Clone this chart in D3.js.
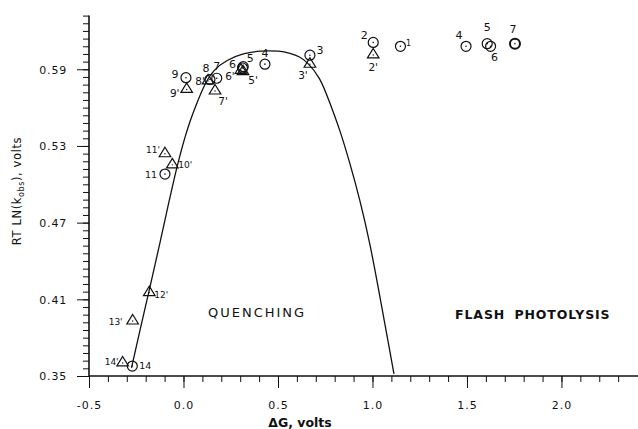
<!DOCTYPE html>
<html><head><meta charset="utf-8">
<script src="https://cdn.jsdelivr.net/npm/d3@7"></script>
<style>body{margin:0;background:#fff}</style></head>
<body>
<svg id="c" width="638" height="429"></svg>
<script>
// ---- data ----
const curveDG = [-0.2751,-0.2302,-0.1772,-0.1243,-0.0714,-0.0450,-0.0185,0.0079,0.0344,0.0698,0.1138,0.1577,0.2286,0.3164,0.4048,0.5106,0.5635,0.6164,0.6519,0.7222,0.7751,0.8280,0.8810,0.9339,0.9868,1.0397,1.0926,1.1138];
const curveV  = [0.3563,0.3860,0.4196,0.4541,0.4901,0.5073,0.5229,0.5370,0.5495,0.5634,0.5790,0.5894,0.5973,0.6025,0.6045,0.6045,0.6025,0.5998,0.5959,0.5842,0.5634,0.5425,0.5164,0.4877,0.4541,0.4118,0.3688,0.3516];

const circleNames = ["1","2","3","4","5","6","7","8","9","11","14"];
const circleDG = [1.148,1.004,0.669,0.431,0.316,0.312,0.176,0.140,0.013,-0.098,-0.271];
const circleV  = [0.608,0.611,0.601,0.594,0.592,0.591,0.583,0.582,0.5834,0.508,0.3578];

const triNames = ["2'","3'","5'","6'","7'","8'","9'","10'","11'","12'","13'","14'"];
const triDG = [1.004,0.669,0.315,0.304,0.167,0.130,0.017,-0.059,-0.098,-0.181,-0.269,-0.322];
const triV  = [0.602,0.5947,0.589,0.590,0.5738,0.5817,0.575,0.516,0.5247,0.416,0.3938,0.361];

const flashNames = ["4","5","6","7"];
const flashDG = [1.495,1.607,1.625,1.754];
const flashV  = [0.608,0.610,0.608,0.610];

const xTickValues = [-0.5,0.0,0.5,1.0,1.5,2.0];
const xTickLabels = ["-0.5","0.0","0.5","1.0","1.5","2.0"];
const yTickValues = [0.35,0.41,0.47,0.53,0.59];
const yTickLabels = ["0.35","0.41","0.47","0.53","0.59"];

// ---- layout (label offsets in px) ----
const circleLabelOff = [[8,-3],[-9,-7],[10,-5],[0,-11],[7,-9],[-10,-4],[0,-12],[-4,-11],[-11,-4],[-14,1],[13,0]];
const triLabelOff = [[0,13],[-7,12],[10,10],[-11,7],[8,11],[-8,1],[-12,5],[13,1],[-12,-3],[12,3],[-17,2],[-11,0]];
const flashLabelOff = [[-7,-11],[0,-17],[4,11],[-2,-15]];

const svg = d3.select("#c");
const x = d3.scaleLinear().domain([-0.5, 2.405]).range([89, 638]);
const y = d3.scaleLinear().domain([0.35, 0.632]).range([376, 376 - 0.282*1278]);
const ink = "#111";
const font = "'DejaVu Sans', sans-serif";

// axes
const xMinor = d3.range(-5, 24).map(i => i/10);
const xAxis = d3.axisBottom(x).tickValues(xMinor).tickSize(6).tickFormat("");
const gx = svg.append("g").attr("transform","translate(0,376)").call(xAxis);
gx.select(".domain").attr("stroke",ink).attr("stroke-width",1.6).attr("d","M89,0H638");
gx.selectAll(".tick line").attr("stroke",ink).attr("stroke-width",1);
const xMajor = d3.axisBottom(x).tickValues(xTickValues).tickSize(12).tickFormat((d,i)=>xTickLabels[i]);
const gx2 = svg.append("g").attr("transform","translate(0,376)").call(xMajor);
gx2.select(".domain").remove();
gx2.selectAll(".tick line").attr("stroke",ink).attr("stroke-width",1);
gx2.selectAll(".tick text").attr("font-family",font).attr("font-size",11).attr("fill",ink)
  .attr("letter-spacing",1).attr("dy",null).attr("y",33);

const yMinor = d3.range(0, 48).map(i => 0.35 + i*0.006);
const yAxis = d3.axisLeft(y).tickValues(yMinor).tickSize(6).tickFormat("");
const gy = svg.append("g").attr("transform","translate(89,0)").call(yAxis);
gy.select(".domain").attr("stroke",ink).attr("stroke-width",1.6).attr("d","M0,"+y(0.632)+"V376");
gy.selectAll(".tick line").attr("stroke",ink).attr("stroke-width",1);
const yMajor = d3.axisLeft(y).tickValues(yTickValues).tickSize(12).tickFormat((d,i)=>yTickLabels[i]);
const gy2 = svg.append("g").attr("transform","translate(89,0)").call(yMajor);
gy2.select(".domain").remove();
gy2.selectAll(".tick line").attr("stroke",ink).attr("stroke-width",1);
gy2.selectAll(".tick text").attr("font-family",font).attr("font-size",11).attr("fill",ink)
  .attr("letter-spacing",0.8).attr("x",-22).attr("dy","0.35em");

// axis titles
svg.append("text").attr("x",300).attr("y",427).attr("text-anchor","middle")
  .attr("font-family",font).attr("font-size",12.5).attr("font-weight","bold").attr("fill",ink)
  .text("ΔG, volts");
const yt = svg.append("text").attr("transform","translate(21,191) rotate(-90)").attr("text-anchor","middle")
  .attr("font-family",font).attr("font-size",11.5).attr("fill",ink).attr("letter-spacing",0.6);
yt.append("tspan").text("RT LN(k");
yt.append("tspan").attr("font-size",8).attr("dy",3).text("obs");
yt.append("tspan").attr("dy",-3).text("), volts");

// region labels
svg.append("text").attr("x",208).attr("y",317).attr("font-family",font).attr("font-size",13)
  .attr("letter-spacing",2).attr("fill",ink).text("QUENCHING");
svg.append("text").attr("x",455).attr("y",319).attr("font-family",font).attr("font-size",12.5)
  .attr("font-weight","bold").attr("letter-spacing",0.9).attr("word-spacing",4).attr("fill",ink).text("FLASH PHOTOLYSIS");

// curve
const line = d3.line().x(d=>x(d[0])).y(d=>y(d[1])).curve(d3.curveBasis);
svg.append("path").attr("d", line(curveDG.map((d,i)=>[d,curveV[i]])))
  .attr("fill","none").attr("stroke",ink).attr("stroke-width",1.3);

// markers
function circles(dg, v, names, off, cls) {
  const g = svg.append("g");
  dg.forEach((d,i)=>{
    const cx = x(d), cy = y(v[i]);
    g.append("circle").attr("cx",cx).attr("cy",cy).attr("r",5).attr("fill","none")
      .attr("stroke",ink).attr("stroke-width", (cls==="flash" && names[i]==="7") ? 2 : 1.2);
    g.append("circle").attr("cx",cx).attr("cy",cy).attr("r",0.8).attr("fill",ink);
    g.append("text").attr("x",cx+off[i][0]).attr("y",cy+off[i][1]).attr("dy","0.35em")
      .attr("text-anchor","middle").attr("font-family",font)
      .attr("font-size", names[i].length>1 ? 9.5 : (names[i]==="1" ? 8 : 11)).attr("fill",ink).text(names[i]);
  });
}
function triangles(dg, v, names, off) {
  const g = svg.append("g");
  dg.forEach((d,i)=>{
    const cx = x(d), cy = y(v[i]);
    g.append("path").attr("d",`M${cx},${cy-5.5}L${cx+5.8},${cy+4}L${cx-5.8},${cy+4}Z`)
      .attr("fill","none").attr("stroke",ink).attr("stroke-width",1.2);
    g.append("circle").attr("cx",cx).attr("cy",cy+1).attr("r",0.7).attr("fill",ink);
    g.append("text").attr("x",cx+off[i][0]).attr("y",cy+off[i][1]).attr("dy","0.35em")
      .attr("text-anchor","middle").attr("font-family",font)
      .attr("font-size", names[i].length>2 ? 9 : 10.5).attr("fill",ink).text(names[i]);
  });
}
circles(circleDG, circleV, circleNames, circleLabelOff, "q");
triangles(triDG, triV, triNames, triLabelOff);
circles(flashDG, flashV, flashNames, flashLabelOff, "flash");
</script>
</body></html>
